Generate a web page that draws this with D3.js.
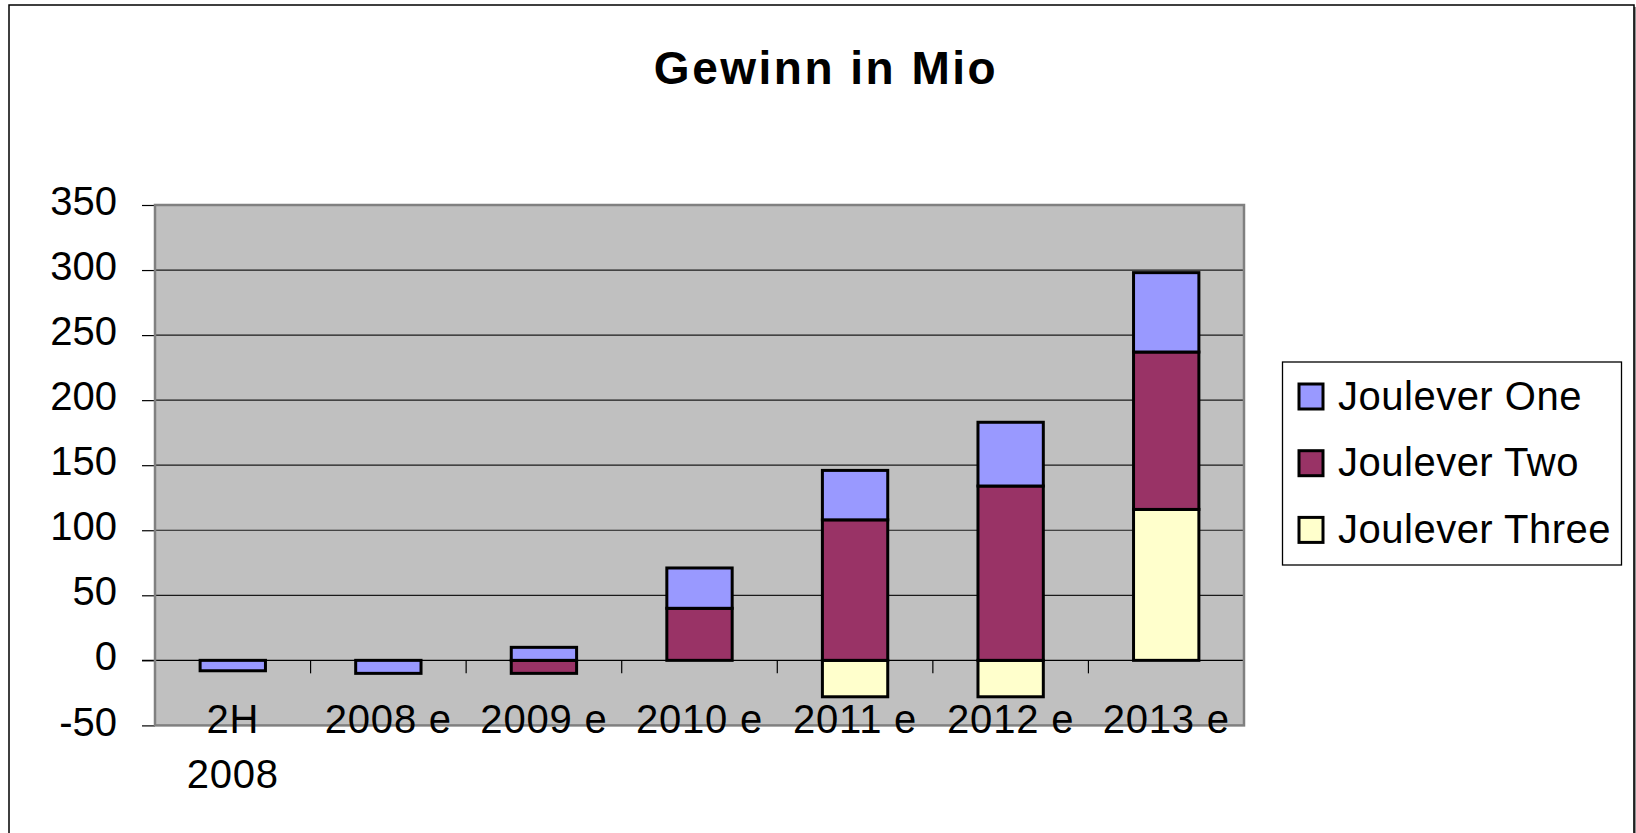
<!DOCTYPE html>
<html>
<head>
<meta charset="utf-8">
<script src="https://cdn.jsdelivr.net/npm/d3@7"></script>
<style>
body{margin:0;background:#fff}
text{font-family:"Liberation Sans",Arial,sans-serif;fill:#000}
</style>
</head>
<body>
<div id="chart"></div>
<script>
// chart data
var categories = ["2H 2008","2008 e","2009 e","2010 e","2011 e","2012 e","2013 e"]
var category_labels = [["2H","2008"],["2008 e"],["2009 e"],["2010 e"],["2011 e"],["2012 e"],["2013 e"]]
var series_names = ["Joulever One","Joulever Two","Joulever Three"]
var joulever_one = [-8,-10,10,31,38,49,61]
var joulever_two = [0,0,-10,40,108,134,121]
var joulever_three = [0,0,0,0,-28,-28,116]
var y_ticks = [-50,0,50,100,150,200,250,300,350]
var grid_ticks = [50,100,150,200,250,300]
var colors = {"Joulever One":"#9999ff","Joulever Two":"#993366","Joulever Three":"#ffffcc"}

var W=1636, H=833
var plot = {left:155, right:1244, top:205, bottom:725.4}

var rows = categories.map(function(c,i){
    return {cat:c, "Joulever One":joulever_one[i], "Joulever Two":joulever_two[i], "Joulever Three":joulever_three[i]}
})

var svg = d3.select("#chart").append("svg")
    .attr("width",W).attr("height",H)

// outer frame
svg.append("rect")
    .attr("x",9).attr("y",5).attr("width",1625).attr("height",H+20)
    .attr("fill","#fff").attr("stroke","#000").attr("stroke-width",1.5)
svg.append("line")
    .attr("x1",1634.5).attr("x2",1634.5).attr("y1",7).attr("y2",H)
    .attr("stroke","#222").attr("stroke-width",2)

svg.append("text")
    .attr("x",826).attr("y",84)
    .attr("text-anchor","middle")
    .style("font-size","46px").style("font-weight","bold").style("letter-spacing","2.5px")
    .text("Gewinn in Mio")

var x = d3.scaleBand()
    .domain(categories)
    .range([plot.left, plot.right])
    .padding(0)

var y = d3.scaleLinear()
    .domain([-50,350])
    .range([plot.bottom, plot.top])

var bar_w = x.bandwidth()*0.42

// plot area
svg.append("rect")
    .attr("x",plot.left).attr("y",plot.top)
    .attr("width",plot.right-plot.left).attr("height",plot.bottom-plot.top)
    .attr("fill","#c0c0c0")

svg.append("g").selectAll("line")
    .data(grid_ticks)
    .join("line")
    .attr("x1",plot.left).attr("x2",plot.right)
    .attr("y1",d=>y(d)).attr("y2",d=>y(d))
    .attr("stroke","#1a1a1a").attr("stroke-width",1.2)

// y axis, plain hyphen for negatives
var yAxis = svg.append("g")
    .attr("transform","translate("+plot.left+",0)")
    .call(d3.axisLeft(y).tickValues(y_ticks).tickFormat(d=>String(d)).tickSize(13).tickPadding(25))
yAxis.select(".domain").remove()
yAxis.selectAll(".tick line").attr("stroke","#000").attr("stroke-width",1.2)
yAxis.selectAll(".tick text")
    .attr("dy","0.24em")
    .style("font-size","40px")
    .style("font-family","'Liberation Sans',Arial,sans-serif")
    .attr("fill","#000")

// stacked bars, negatives stack down from zero
var stack = d3.stack()
    .keys(["Joulever Three","Joulever Two","Joulever One"])
    .offset(d3.stackOffsetDiverging)
var stacked = stack(rows)

svg.append("g").selectAll("g")
    .data(stacked)
    .join("g")
    .attr("fill",d=>colors[d.key])
    .selectAll("rect")
    .data(d=>d.filter(p=>p[1]-p[0]!=0))
    .join("rect")
    .attr("x",d=>x(d.data.cat)+(x.bandwidth()-bar_w)/2)
    .attr("y",d=>y(d[1]))
    .attr("width",bar_w)
    .attr("height",d=>y(d[0])-y(d[1]))
    .attr("stroke","#000").attr("stroke-width",3)

// category axis on zero line
svg.append("line")
    .attr("x1",plot.left-13).attr("x2",plot.right)
    .attr("y1",y(0)).attr("y2",y(0))
    .attr("stroke","#000").attr("stroke-width",1.2)

svg.append("g").selectAll("line")
    .data(d3.range(categories.length+1))
    .join("line")
    .attr("x1",i=>plot.left+i*x.step()).attr("x2",i=>plot.left+i*x.step())
    .attr("y1",y(0)).attr("y2",y(0)+13)
    .attr("stroke","#000").attr("stroke-width",1.2)

// plot border
svg.append("rect")
    .attr("x",plot.left).attr("y",plot.top)
    .attr("width",plot.right-plot.left).attr("height",plot.bottom-plot.top)
    .attr("fill","none").attr("stroke","#808080").attr("stroke-width",2.5)

var cat_labels = svg.append("g").selectAll("text")
    .data(categories)
    .join("text")
    .attr("x",d=>x(d)+x.bandwidth()/2)
    .attr("y",733)
    .attr("text-anchor","middle")
    .style("font-size","40px")
    .style("letter-spacing","0.8px")
cat_labels.selectAll("tspan")
    .data((d,i)=>category_labels[i])
    .join("tspan")
    .attr("x",function(){return this.parentNode.getAttribute("x")})
    .attr("dy",(d,i)=>i==0?0:55)
    .text(d=>d)

// legend
var legend = svg.append("g")
legend.append("rect")
    .attr("x",1282.5).attr("y",362).attr("width",339).attr("height",203)
    .attr("fill","#fff").attr("stroke","#000").attr("stroke-width",1.3)
var items = legend.selectAll("g")
    .data(series_names)
    .join("g")
    .attr("transform",(d,i)=>"translate(0,"+(i*66.7)+")")
items.append("rect")
    .attr("x",1299).attr("y",384).attr("width",24).attr("height",25)
    .attr("fill",d=>colors[d]).attr("stroke","#000").attr("stroke-width",3)
items.append("text")
    .attr("x",1338).attr("y",409.5)
    .style("font-size","40px")
    .style("letter-spacing","0.5px")
    .text(d=>d)
</script>
</body>
</html>
